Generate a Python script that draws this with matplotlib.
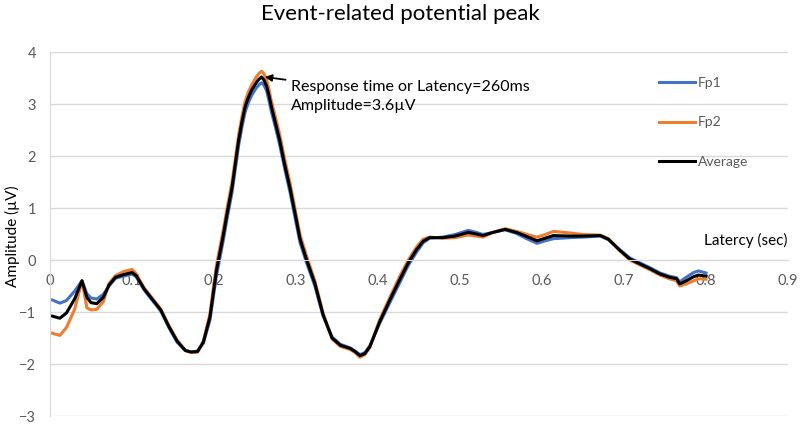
import matplotlib
matplotlib.use("Agg")
import matplotlib.pyplot as plt

plt.rcParams['font.family'] = ['Lato', 'DejaVu Sans']

title = "Event-related potential peak"
ylabel = "Amplitude (µV)"
xlabel = "Latercy (sec)"
annotation = "Response time or Latency=260ms\nAmplitude=3.6µV"
series_names = ["Fp1", "Fp2", "Average"]

t = [0.003, 0.012, 0.02, 0.03, 0.039, 0.045, 0.05, 0.057, 0.065, 0.072,
     0.08, 0.09, 0.1, 0.105, 0.115, 0.125, 0.135, 0.145, 0.155, 0.165,
     0.172, 0.18, 0.187, 0.195,
     0.203, 0.211, 0.216, 0.222, 0.226, 0.23, 0.234, 0.238, 0.242, 0.246,
     0.252, 0.255, 0.258, 0.261, 0.264, 0.267, 0.27, 0.275, 0.28, 0.286,
     0.293, 0.299, 0.305, 0.313,
     0.323, 0.333,
     0.344, 0.354, 0.366, 0.372, 0.378, 0.384, 0.39, 0.402, 0.415, 0.427,
     0.437, 0.447, 0.455, 0.463, 0.479, 0.494, 0.51, 0.52, 0.528, 0.54,
     0.555, 0.569, 0.58, 0.594, 0.604, 0.614, 0.634, 0.65, 0.671, 0.681,
     0.694, 0.707, 0.72, 0.732, 0.744, 0.755, 0.764, 0.768, 0.776, 0.785,
     0.791, 0.8]

average = [-1.08, -1.12, -1.02, -0.75, -0.40, -0.72, -0.82, -0.84, -0.72, -0.48,
           -0.33, -0.28, -0.24, -0.30, -0.56, -0.76, -0.96, -1.28, -1.56, -1.74,
           -1.77, -1.76, -1.58, -1.10,
           -0.20, 0.45, 0.90, 1.40, 1.85, 2.30, 2.65, 2.95, 3.13, 3.27,
           3.42, 3.48, 3.52, 3.46, 3.35, 3.17, 2.95, 2.63, 2.31, 1.85,
           1.36, 0.88, 0.40, 0.00,
           -0.45, -1.05,
           -1.50, -1.64, -1.70, -1.76, -1.84, -1.80, -1.67, -1.19, -0.75, -0.36,
           -0.05, 0.20, 0.36, 0.43, 0.43, 0.46, 0.53, 0.50, 0.47, 0.53,
           0.59, 0.53, 0.46, 0.37, 0.42, 0.47, 0.46, 0.46, 0.47, 0.40,
           0.20, 0.02, -0.08, -0.17, -0.27, -0.33, -0.36, -0.46, -0.40, -0.32,
           -0.29, -0.31]

fp1 = [-0.77, -0.83, -0.78, -0.60, -0.40, -0.65, -0.73, -0.75, -0.66, -0.50,
       -0.35, -0.31, -0.27, -0.32, -0.58, -0.78, -0.98, -1.30, -1.58, -1.74,
       -1.77, -1.75, -1.60, -1.16,
       -0.30, 0.35, 0.80, 1.30, 1.75, 2.20, 2.55, 2.85, 3.03, 3.17,
       3.32, 3.37, 3.41, 3.36, 3.26, 3.07, 2.85, 2.55, 2.22, 1.77,
       1.28, 0.80, 0.33, -0.06,
       -0.50, -1.08,
       -1.48, -1.62, -1.69, -1.75, -1.82, -1.78, -1.65, -1.22, -0.80, -0.42,
       -0.10, 0.15, 0.33, 0.42, 0.44, 0.49, 0.57, 0.53, 0.49, 0.53,
       0.58, 0.51, 0.42, 0.32, 0.37, 0.41, 0.43, 0.44, 0.46, 0.39,
       0.21, 0.04, -0.06, -0.15, -0.25, -0.31, -0.34, -0.42, -0.33, -0.24,
       -0.21, -0.25]

fp2 = [-1.41, -1.45, -1.30, -0.95, -0.40, -0.92, -0.96, -0.95, -0.80, -0.45,
       -0.30, -0.22, -0.18, -0.26, -0.54, -0.74, -0.94, -1.26, -1.54, -1.74,
       -1.78, -1.77, -1.56, -1.04,
       -0.10, 0.55, 1.00, 1.50, 1.95, 2.40, 2.75, 3.05, 3.23, 3.37,
       3.53, 3.59, 3.63, 3.58, 3.47, 3.28, 3.05, 2.74, 2.42, 1.95,
       1.46, 0.97, 0.48, 0.07,
       -0.40, -1.02,
       -1.52, -1.66, -1.72, -1.78, -1.87, -1.82, -1.68, -1.15, -0.70, -0.30,
       0.00, 0.25, 0.40, 0.44, 0.42, 0.43, 0.48, 0.46, 0.44, 0.53,
       0.60, 0.55, 0.50, 0.44, 0.49, 0.55, 0.52, 0.49, 0.48, 0.41,
       0.19, 0.00, -0.10, -0.19, -0.29, -0.36, -0.40, -0.50, -0.46, -0.40,
       -0.36, -0.37]

xticks = [0, 0.1, 0.2, 0.3, 0.4, 0.5, 0.6, 0.7, 0.8, 0.9]
xticklabels = ["0", "0.1", "0.2", "0.3", "0.4", "0.5", "0.6", "0.7", "0.8", "0.9"]
yticks = [-3, -2, -1, 0, 1, 2, 3, 4]

peak_t = 0.258
peak_v = 3.52

fig = plt.figure(figsize=(8, 4.24), dpi=100)
ax = fig.add_axes([50 / 800, 8 / 424, 738 / 800, 364 / 424])

grid_c = "#d9d9d9"
tick_c = "#595959"

ax.plot(t, fp1, color="#4472C4", lw=2.2, label=series_names[0], solid_joinstyle='round')
ax.plot(t, fp2, color="#ED7D31", lw=2.2, label=series_names[1], solid_joinstyle='round')
ax.plot(t, average, color="black", lw=2.2, label=series_names[2], solid_joinstyle='round')

ax.set_xlim(0, 0.9)
ax.set_ylim(-3, 4)
ax.set_xticks(xticks)
ax.set_xticklabels(xticklabels)
ax.set_yticks(yticks)
ax.yaxis.grid(True, color=grid_c, lw=1)
ax.set_axisbelow(True)
for s in ["top", "right"]:
    ax.spines[s].set_visible(False)
ax.spines["left"].set_color(grid_c)
ax.spines["bottom"].set_position(("data", 0))
ax.spines["bottom"].set_color(grid_c)
ax.tick_params(axis="both", length=0, colors=tick_c, labelsize=10.5)
ax.tick_params(axis="y", pad=10)
ax.tick_params(axis="x", pad=10)

fig.text(400 / 800, 1 - 14 / 424, title, ha="center", va="center", fontsize=16, color="black")
fig.text(12 / 800, 1 - 236 / 424, ylabel, ha="center", va="center", rotation=90, fontsize=11, color="black")
ax.text(0.9, 0.38, xlabel, ha="right", va="center", fontsize=11, color="black")

ax.annotate(annotation, xy=(peak_t + 0.004, peak_v), xytext=(0.294, 3.46),
            ha="left", va="top", fontsize=11.5, color="black", linespacing=1.45,
            arrowprops=dict(arrowstyle="-|>", color="black", lw=1.3, shrinkA=2, shrinkB=0,
                            mutation_scale=10))

leg = ax.legend(loc="upper left", bbox_to_anchor=(652 / 800, 1 - 70 / 424),
                bbox_transform=fig.transFigure, frameon=False, fontsize=10,
                labelspacing=1.98, handlelength=2.6, handletextpad=0.2, borderpad=0)
for txt in leg.get_texts():
    txt.set_color(tick_c)

fig.savefig("out.png", dpi=100)
